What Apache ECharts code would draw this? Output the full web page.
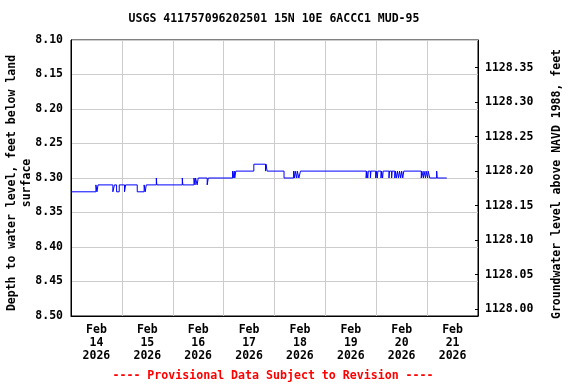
<!DOCTYPE html>
<html>
<head>
<meta charset="utf-8">
<script src="https://cdn.jsdelivr.net/npm/echarts@6/dist/echarts.min.js"></script>
<style>
html,body{margin:0;padding:0;background:#fff;}
#chart{width:576px;height:384px;}
</style>
</head>
<body>
<div id="chart"></div>
<script>
// Change points of the depth record (feet below land surface); value holds until the next time.
const changeTimes = [
  '2026-02-14 00:00','2026-02-14 11:45','2026-02-14 12:15','2026-02-14 12:45','2026-02-14 19:45',
  '2026-02-14 20:30','2026-02-14 21:30','2026-02-14 22:45','2026-02-15 01:15','2026-02-15 01:45',
  '2026-02-15 07:15','2026-02-15 10:30','2026-02-15 11:00','2026-02-15 11:30','2026-02-15 16:15',
  '2026-02-15 16:30','2026-02-16 04:30','2026-02-16 04:45','2026-02-16 10:00','2026-02-16 10:30',
  '2026-02-16 10:45','2026-02-16 11:30','2026-02-16 12:00','2026-02-16 16:15','2026-02-16 16:45',
  '2026-02-17 04:15','2026-02-17 04:30','2026-02-17 05:00','2026-02-17 05:15','2026-02-17 05:45',
  '2026-02-17 14:15','2026-02-17 19:45','2026-02-17 20:00','2026-02-17 20:30','2026-02-18 04:30',
  '2026-02-18 09:00','2026-02-18 09:30','2026-02-18 09:45','2026-02-18 10:30','2026-02-18 10:45',
  '2026-02-18 11:30','2026-02-18 12:15','2026-02-19 19:15','2026-02-19 19:30','2026-02-19 20:00',
  '2026-02-19 20:15','2026-02-19 21:15','2026-02-19 21:30','2026-02-19 23:45','2026-02-20 00:00',
  '2026-02-20 00:30','2026-02-20 00:45','2026-02-20 02:15','2026-02-20 02:30','2026-02-20 03:00',
  '2026-02-20 03:15','2026-02-20 06:00','2026-02-20 06:15','2026-02-20 07:15','2026-02-20 07:30',
  '2026-02-20 08:45','2026-02-20 09:00','2026-02-20 09:30','2026-02-20 10:00','2026-02-20 10:30',
  '2026-02-20 11:00','2026-02-20 11:30','2026-02-20 12:00','2026-02-20 12:30','2026-02-20 13:00',
  '2026-02-20 21:15','2026-02-20 21:30','2026-02-20 22:15','2026-02-20 22:30','2026-02-20 23:15',
  '2026-02-20 23:30','2026-02-21 00:15','2026-02-21 00:30','2026-02-21 01:15','2026-02-21 04:30',
  '2026-02-21 04:45','2026-02-21 09:15'
];
const depthValues = [
  8.32,8.31,8.32,8.31,8.32,
  8.31,8.32,8.31,8.32,8.31,
  8.32,8.31,8.32,8.31,8.30,
  8.31,8.30,8.31,8.30,8.31,
  8.30,8.31,8.30,8.31,8.30,
  8.29,8.30,8.29,8.30,8.29,
  8.28,8.29,8.28,8.29,8.30,
  8.29,8.30,8.29,8.30,8.29,
  8.30,8.29,8.30,8.29,8.30,
  8.29,8.30,8.29,8.30,8.29,
  8.30,8.29,8.30,8.29,8.30,
  8.29,8.30,8.29,8.30,8.29,
  8.30,8.29,8.30,8.29,8.30,
  8.29,8.30,8.29,8.30,8.29,
  8.30,8.29,8.30,8.29,8.30,
  8.29,8.30,8.29,8.30,8.29,
  8.30,8.30
];
const dayLabels = ['Feb\n14\n2026','Feb\n15\n2026','Feb\n16\n2026','Feb\n17\n2026',
                   'Feb\n18\n2026','Feb\n19\n2026','Feb\n20\n2026','Feb\n21\n2026'];
const depthTicks = [8.10,8.15,8.20,8.25,8.30,8.35,8.40,8.45,8.50];
const elevTicks = [1128.00,1128.05,1128.10,1128.15,1128.20,1128.25,1128.30,1128.35];
const datumOffset = 1136.49; // elevation = datumOffset - depth
const titleText = 'USGS 411757096202501 15N 10E 6ACCC1 MUD-95';
const leftName = 'Depth to water level, feet below land\nsurface';
const rightName = 'Groundwater level above NAVD 1988, feet';
const footerText = '---- Provisional Data Subject to Revision ----';

const startMs = Date.UTC(2026,1,14,0,0);
function toHours(s){
  const [d,t] = s.split(' ');
  const [Y,M,D] = d.split('-').map(Number);
  const [h,m] = t.split(':').map(Number);
  return (Date.UTC(Y,M-1,D,h,m) - startMs)/3600000;
}
const seriesData = changeTimes.map((t,i)=>[toHours(t), depthValues[i]]);
const labelPositions = dayLabels.map((_,i)=>12+24*i);

const FONT = 'DejaVu Sans Mono';
const chart = echarts.init(document.getElementById('chart'));
chart.setOption({
  animation:false,
  backgroundColor:'#fff',
  grid:{left:71,right:98,top:40,bottom:68,containLabel:false,outerBoundsMode:'none',
        show:true,borderColor:'#000',borderWidth:1,backgroundColor:'transparent'},
  graphic:[
    {type:'text',x:274,y:19,style:{text:titleText,font:'bold 11.5px "DejaVu Sans Mono"',fill:'#000',align:'center',verticalAlign:'middle'}},
    {type:'text',x:273,y:376,style:{text:footerText,font:'bold 11.6px "DejaVu Sans Mono"',fill:'#ff0000',align:'center',verticalAlign:'middle'}},
    {type:'text',x:20,y:183,rotation:Math.PI/2,style:{text:leftName,font:'bold 11.5px "DejaVu Sans Mono"',lineHeight:15,fill:'#000',align:'center',verticalAlign:'middle'}},
    {type:'text',x:557,y:184,rotation:Math.PI/2,style:{text:rightName,font:'bold 11.5px "DejaVu Sans Mono"',fill:'#000',align:'center',verticalAlign:'middle'}}
  ],
  xAxis:{
    type:'value',min:0,max:192,interval:24,
    axisLine:{show:true,lineStyle:{color:'#000'}},
    axisTick:{show:false},
    splitLine:{show:true,lineStyle:{color:'#cccccc',width:1}},
    axisLabel:{customValues:labelPositions,margin:8,color:'#000',fontFamily:FONT,fontWeight:'bold',fontSize:11.5,lineHeight:12.8,
      formatter:(v)=>dayLabels[Math.round((v-12)/24)]}
  },
  yAxis:[
    {type:'value',inverse:true,min:8.10,max:8.50,interval:0.05,position:'left',
     axisLine:{show:true,lineStyle:{color:'#000'}},axisTick:{show:false},
     splitLine:{show:true,lineStyle:{color:'#cccccc',width:1}},
     axisLabel:{margin:8,color:'#000',fontFamily:FONT,fontWeight:'bold',fontSize:11.5,formatter:(v)=>v.toFixed(2)}},
    {type:'value',min:datumOffset-8.50,max:datumOffset-8.10,position:'right',
     axisLine:{show:true,lineStyle:{color:'#000'}},
     axisTick:{show:true,inside:true,length:3,customValues:elevTicks,lineStyle:{color:'#000'}},
     splitLine:{show:false},
     axisLabel:{customValues:elevTicks,margin:7,color:'#000',fontFamily:FONT,fontWeight:'bold',fontSize:11.5,formatter:(v)=>v.toFixed(2)}}
  ],
  series:[{
    type:'line',yAxisIndex:0,data:seriesData,step:'end',showSymbol:false,symbol:'none',
    lineStyle:{color:'#0000ff',width:1},
    silent:true
  }]
});
</script>
</body>
</html>
